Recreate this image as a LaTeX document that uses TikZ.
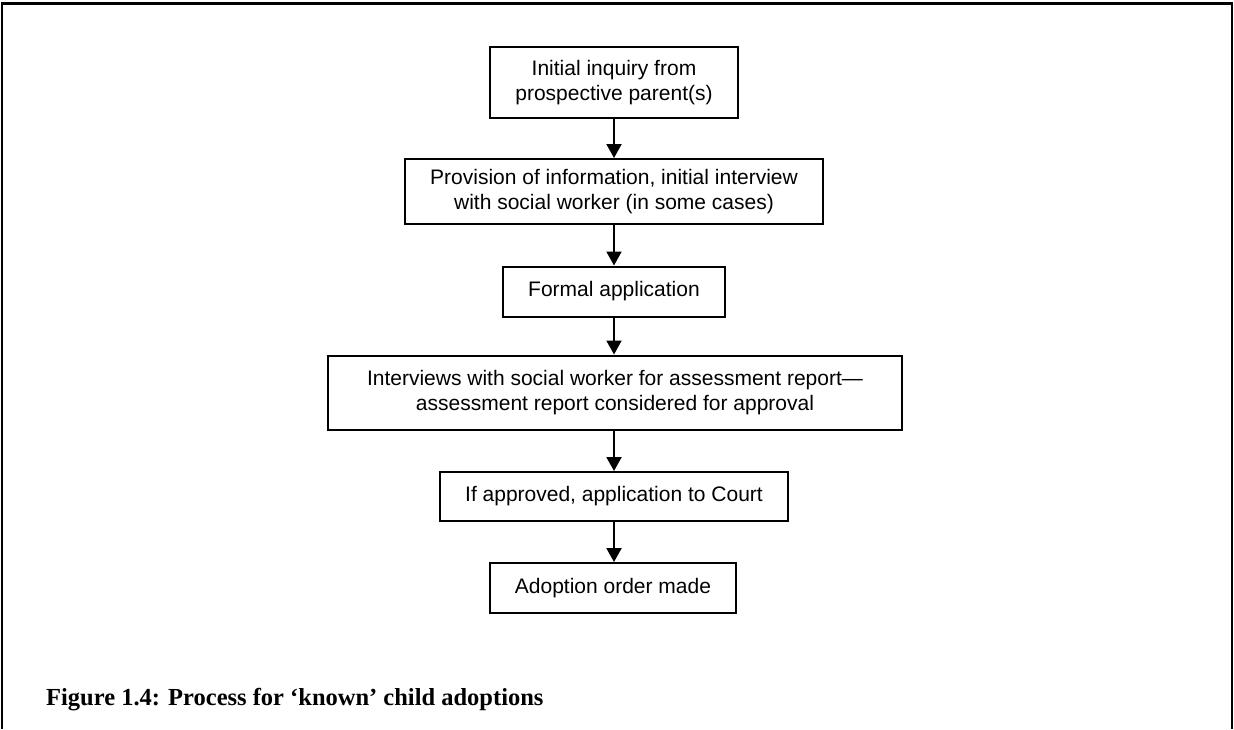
\documentclass[tikz,border=0pt]{standalone}
\usepackage{fontspec}
\setmainfont{Liberation Serif}
\newfontfamily\boxfont{Liberation Sans}
\usetikzlibrary{arrows.meta}
\begin{document}
\begin{tikzpicture}[x=1pt,y=-1pt,
  stepbox/.style={draw=black, line width=2pt, inner xsep=25pt, inner ysep=0pt,
    align=center, font=\boxfont\fontsize{21}{25}\selectfont},
  flow/.style={line width=2pt, -{Triangle[width=15pt,length=14pt]}},
  frame/.style={line width=2.5pt}]
\useasboundingbox (0,0) rectangle (1234,729);
\draw[frame] (2,729) -- (2,3.5) -- (1232,3.5) -- (1232,729);
\node[stepbox, minimum height=71pt] (b1) at (614,82.5) {Initial inquiry from\\prospective parent(s)};
\node[stepbox, minimum height=65pt] (b2) at (614,191.5) {Provision of information, initial interview\\with social worker (in some cases)};
\node[stepbox, minimum height=50pt] (b3) at (614,291.5) {Formal application};
\node[stepbox, minimum height=74pt, minimum width=574pt] (b4) at (615,392.5) {Interviews with social worker for assessment report—\\assessment report considered for approval};
\node[stepbox, minimum height=49pt] (b5) at (614,496.5) {If approved, application to Court};
\node[stepbox, minimum height=50pt] (b6) at (613,588) {Adoption order made};
\draw[flow] (b1) -- (b2);
\draw[flow] (b2) -- (b3);
\draw[flow] (b3.south) -- (b3.south |- b4.north);
\draw[flow] (b4.south -| b5.north) -- (b5);
\draw[flow] (b5.south) -- (b5.south |- b6.north);
\node[anchor=base west, inner sep=0pt, font=\bfseries\fontsize{24.5}{28}\selectfont] (cap) at (46,705) {Figure 1.4: Process for ‘known’ child adoptions};
\end{tikzpicture}
\end{document}
